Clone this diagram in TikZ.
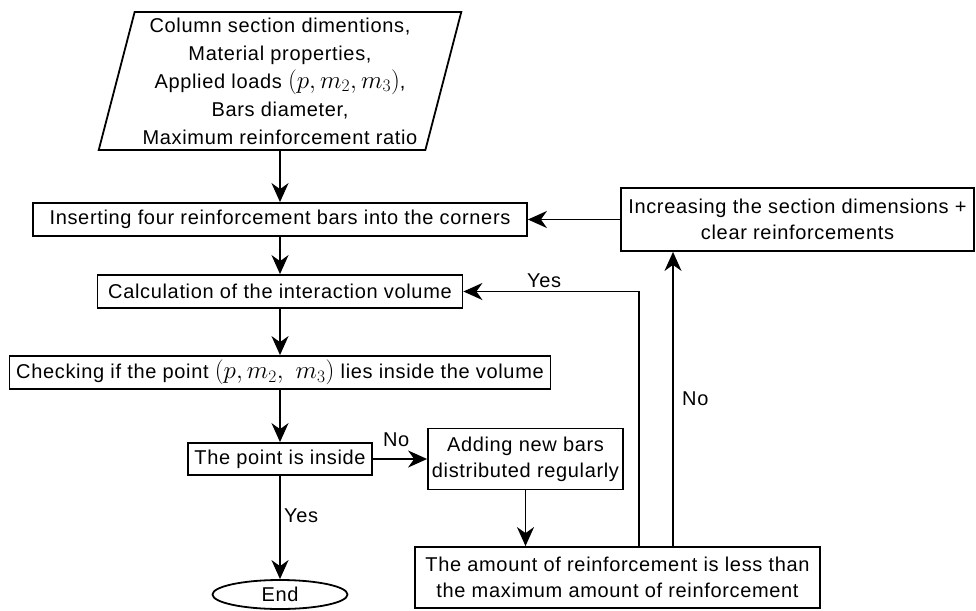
\RequirePackage{fix-cm}
\documentclass[tikz,border=0pt]{standalone}
\usepackage{fontspec}
\setmainfont{Liberation Sans}[LetterSpace=3.3]
\usetikzlibrary{shapes.geometric,arrows.meta}
\newcommand{\loadpt}[1]{{\fontsize{25}{26}\selectfont$#1$}}
\begin{document}
\begin{tikzpicture}[x=1pt,y=-1pt]

		\tikzstyle{module}=[rectangle,
			draw=black,line width=1.8pt,
			minimum height=33pt,
			align=center,inner sep=0pt,
			font=\fontsize{20}{26}\selectfont]
		\tikzstyle{arrow}=[->,>={Stealth[length=19pt,width=17pt,inset=6pt]},
			draw=black,line width=1.8pt]
		\tikzstyle{lbl}=[font=\fontsize{20}{26}\selectfont]

		\useasboundingbox (0,0) rectangle (976,610);

		\node[module,trapezium,trapezium left angle=75,trapezium right angle=105,
			trapezium stretches=true,minimum width=363pt,minimum height=138pt,
			font=\fontsize{20}{28}\selectfont]	(input)	at (280,81)
			{Column section dimentions,\\ Material properties,\\ Applied loads \loadpt{(p, m_2, m_3)},\\ Bars diameter,\\ Maximum reinforcement ratio};
		\node[module,minimum width=494pt]	(insert)	at (280,219.5)	{Inserting four reinforcement bars into the corners};
		\node[module,minimum width=365pt]	(calc)	at (280,291.5)	{Calculation of the interaction volume};
		\node[module,minimum width=541pt]	(check)	at (280,372.5)	{Checking if the point \loadpt{(p, m_2,\ m_3)} lies inside the volume};
		\node[module,minimum width=184pt,minimum height=32pt]	(inside)	at (280,459)	{The point is inside};
		\node[module,ellipse,minimum width=135pt,minimum height=29pt]	(stop)	at (280,594.5)	{End};
		\node[module,minimum width=195pt,minimum height=61pt]	(adding)	at (525.5,459)	{Adding new bars\\ distributed regularly};
		\node[module,minimum width=405pt,minimum height=61pt]	(amount)	at (617.5,577.5)	{The amount of reinforcement is less than\\ the maximum amount of reinforcement};
		\node[module,minimum width=353pt,minimum height=63pt]	(increase)	at (797.5,219.5)	{Increasing the section dimensions +\\ clear reinforcements};

		\draw[arrow]	(input)		--	(insert);
		\draw[arrow]	(insert)	--	(calc);
		\draw[arrow]	(calc)		--	(check);
		\draw[arrow]	(check)		--	(inside);
		\draw[arrow]	(inside)	--	node[lbl,right,pos=0.39]{Yes}	(stop);
		\draw[arrow]	(inside)	--	node[lbl,above=8pt,pos=0.43]{No}	(adding);
		\draw[arrow]	(adding)	--	(adding |- amount.north);

		\draw[arrow]	([xshift=21.5pt]amount.north)	|-	node[lbl,above,pos=0.77]{Yes}	(calc);
		\draw[arrow]	([xshift=55.5pt]amount.north)	--	node[lbl,right=5pt]{No}	([xshift=55.5pt]amount.north |- increase.south);
		\draw[arrow]	(increase)	--	(insert);

	\end{tikzpicture}
\end{document}
